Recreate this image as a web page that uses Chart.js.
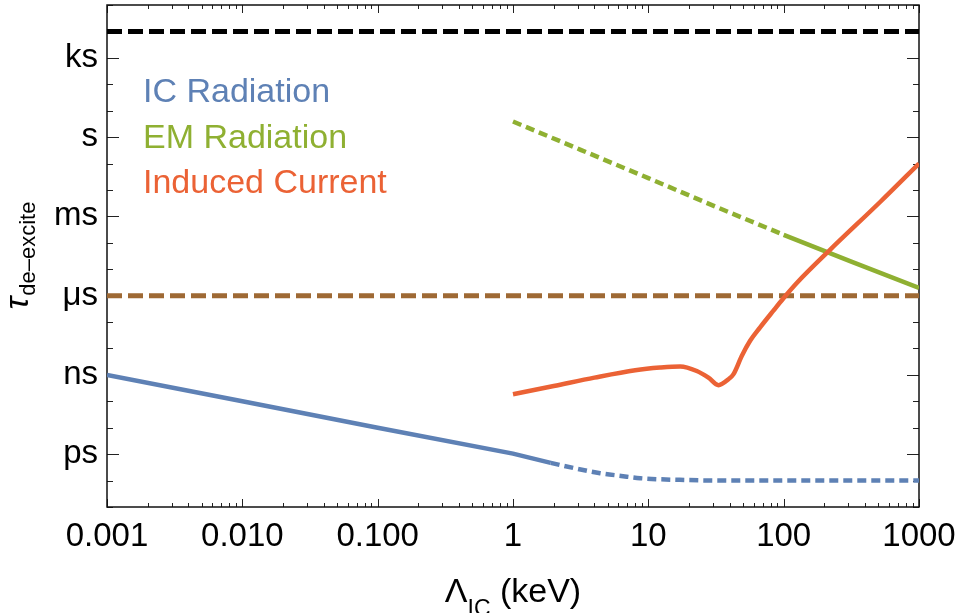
<!DOCTYPE html>
<html lang="en">
<head>
<meta charset="UTF-8" />
<title>De-excitation time vs IC scale</title>
<script src="https://cdn.jsdelivr.net/npm/chart.js@4.4.1/dist/chart.umd.min.js"></script>
<style>
  html, body { margin: 0; padding: 0; background: #ffffff; }
  canvas { display: block; }
</style>
</head>
<body>
<canvas id="tauChart" width="961" height="613"></canvas>
<script>
// x: Lambda_IC in keV, y: de-excitation time in seconds
const icSolidX = [0.001, 0.01, 0.1, 1, 1.9];
const icSolidY = [1e-9, 1e-10, 1e-11, 1.05e-12, 4.7e-13];
const icDashX = [1.9, 2.8, 4.4, 6.3, 8.7, 19, 40, 1000];
const icDashY = [4.7e-13, 3.0e-13, 1.9e-13, 1.5e-13, 1.23e-13, 1.05e-13, 1.0e-13, 1.0e-13];

const emDotX = [1, 3.16, 10, 31.6, 100];
const emDotY = [3.9, 0.33, 0.028, 2.3e-3, 2.0e-4];
const emSolidX = [100, 316, 1000];
const emSolidY = [2.0e-4, 1.95e-5, 1.95e-6];

const currentX = [1, 2, 4, 8, 12.2, 17.2, 22.8, 27.8, 33, 39.1, 42.6, 49, 56.5, 67, 84, 100, 125, 220, 516, 1000];
const currentY = [1.86e-10, 3.8e-10, 7.9e-10, 1.5e-9, 1.9e-9, 2.1e-9, 1.41e-9, 7.9e-10, 4.1e-10, 6.9e-10,
                  1.07e-9, 5.2e-9, 1.95e-8, 6.3e-8, 2.7e-7, 8.1e-7, 3.0e-6, 5.4e-5, 3.5e-3, 0.1];

const limitX = [0.001, 1000];
const upperLimitY = [1e4, 1e4];
const microsecondY = [1e-6, 1e-6];

const xTickVals = [0.001, 0.01, 0.1, 1, 10, 100, 1000];
const xTickLabels = ["0.001", "0.010", "0.100", "1", "10", "100", "1000"];
const yTickVals = [1e-12, 1e-9, 1e-6, 1e-3, 1, 1e3];
const yTickLabels = ["ps", "ns", "\u03BCs", "ms", "s", "ks"];

const legendLabels = ["IC Radiation", "EM Radiation", "Induced Current"];
const legendColors = ["#5E81B5", "#8FB032", "#EB6235"];

const FONT = '"Liberation Sans", Arial, sans-serif';

function pts(xs, ys) {
  return xs.map((x, i) => ({ x: x, y: ys[i] }));
}

function lineSet(label, xs, ys, color, width, dash) {
  return {
    label: label,
    data: pts(xs, ys),
    borderColor: color,
    borderWidth: width,
    borderDash: dash || [],
    borderCapStyle: "butt",
    pointRadius: 0,
    fill: false,
    tension: 0,
  };
}

const currentSet = lineSet("Induced Current", currentX, currentY, "#EB6235", 4.5);
currentSet.cubicInterpolationMode = "monotone";
const icDashSet = lineSet("IC Radiation (dashed)", icDashX, icDashY, "#5E81B5", 4.5, [9, 5]);
icDashSet.cubicInterpolationMode = "monotone";

// inward ticks and frame, Mathematica style
const framePlugin = {
  id: "frame",
  beforeDatasetsDraw(chart) {
    const { ctx, chartArea: a, scales } = chart;
    const x = scales.x, y = scales.y;
    ctx.save();
    ctx.strokeStyle = "#222";
    ctx.lineWidth = 1;
    ctx.beginPath();
    for (let e = -3; e <= 3; e++) {
      for (let m = 1; m < 10; m++) {
        const v = m * Math.pow(10, e);
        if (v > 1000) break;
        const px = Math.round(x.getPixelForValue(v)) + 0.5;
        const len = m === 1 ? 8 : 4;
        ctx.moveTo(px, a.bottom); ctx.lineTo(px, a.bottom - len);
        ctx.moveTo(px, a.top); ctx.lineTo(px, a.top + len);
      }
    }
    for (let e = -14; e <= 5; e++) {
      const py = Math.round(y.getPixelForValue(Math.pow(10, e))) + 0.5;
      const len = (e % 3 === 0) ? 12 : 6;
      ctx.moveTo(a.left, py); ctx.lineTo(a.left + len, py);
      ctx.moveTo(a.right, py); ctx.lineTo(a.right - len, py);
    }
    ctx.stroke();
    ctx.lineWidth = 1.5;
    ctx.strokeStyle = "#111";
    ctx.strokeRect(a.left, a.top, a.right - a.left, a.bottom - a.top);
    ctx.restore();
  },
};

// axis titles with subscripts and the text legend
const textPlugin = {
  id: "texts",
  afterDraw(chart) {
    const { ctx, chartArea: a } = chart;
    ctx.save();
    ctx.fillStyle = "#000";
    ctx.textBaseline = "alphabetic";
    ctx.textAlign = "left";

    // x title: Lambda_IC (keV)
    const mainX = "34px " + FONT, subX = "23px " + FONT;
    ctx.font = mainX;
    const w1 = ctx.measureText("\u039B").width;
    const w3 = ctx.measureText(" (keV)").width;
    ctx.font = subX;
    const w2 = ctx.measureText("IC").width;
    let x0 = (a.left + a.right) / 2 - (w1 + w2 + w3) / 2;
    const base = a.bottom + 95;
    ctx.font = mainX;
    ctx.fillText("\u039B", x0, base);
    ctx.font = subX;
    ctx.fillText("IC", x0 + w1, base + 14);
    ctx.font = mainX;
    ctx.fillText(" (keV)", x0 + w1 + w2, base);

    // y title: tau_de-excite
    const mainY = "italic 34px " + FONT, subY = "22px " + FONT;
    ctx.font = mainY;
    const t1 = ctx.measureText("\u03C4").width;
    ctx.font = subY;
    const t2 = ctx.measureText("de\u2013excite").width;
    ctx.translate(28, (a.top + a.bottom) / 2);
    ctx.rotate(-Math.PI / 2);
    const s0 = -(t1 + t2) / 2;
    ctx.font = mainY;
    ctx.fillText("\u03C4", s0, 0);
    ctx.font = subY;
    ctx.fillText("de\u2013excite", s0 + t1 + 1, 7);
    ctx.setTransform(1, 0, 0, 1, 0, 0);

    // legend
    ctx.font = "34px " + FONT;
    legendLabels.forEach((t, i) => {
      ctx.fillStyle = legendColors[i];
      ctx.fillText(t, a.left + 36, a.top + 97 + i * 45.5);
    });
    ctx.restore();
  },
};

const ctx = document.getElementById("tauChart").getContext("2d");

const tauChart = new Chart(ctx, {
  type: "line",
  data: {
    datasets: [
      currentSet,
      lineSet("EM Radiation", emSolidX, emSolidY, "#8FB032", 4.5),
      lineSet("EM Radiation (dotted)", emDotX, emDotY, "#8FB032", 4.5, [9, 5]),
      lineSet("IC Radiation", icSolidX, icSolidY, "#5E81B5", 4.5),
      icDashSet,
      lineSet("microsecond", limitX, microsecondY, "#9E6934", 5, [15, 6]),
      lineSet("upper limit", limitX, upperLimitY, "#000000", 5, [15, 6]),
    ],
  },
  options: {
    responsive: false,
    animation: false,
    devicePixelRatio: 1,
    layout: { padding: { top: 5, right: 42, left: 0, bottom: 0 } },
    plugins: {
      legend: { display: false },
      tooltip: { enabled: false },
    },
    scales: {
      x: {
        type: "logarithmic",
        min: 0.001,
        max: 1000,
        grid: { display: false, drawTicks: false },
        border: { display: false },
        afterBuildTicks: (s) => { s.ticks = xTickVals.map((v) => ({ value: v })); },
        afterFit: (s) => {
          s.height = 106;
          s.paddingLeft = 0; s.paddingRight = 0;
        },
        ticks: {
          autoSkip: false,
          maxRotation: 0,
          padding: 10,
          color: "#000",
          font: { family: FONT, size: 33 },
          callback: (v, i) => xTickLabels[i],
        },
      },
      y: {
        type: "logarithmic",
        min: 1e-14,
        max: 1e5,
        grid: { display: false, drawTicks: false },
        border: { display: false },
        afterBuildTicks: (s) => { s.ticks = yTickVals.map((v) => ({ value: v })); },
        afterFit: (s) => {
          s.width = 107;
          s.paddingTop = 0; s.paddingBottom = 0;
        },
        ticks: {
          autoSkip: false,
          padding: 9,
          color: "#000",
          font: { family: FONT, size: 33 },
          callback: (v, i) => yTickLabels[i],
        },
      },
    },
  },
  plugins: [framePlugin, textPlugin],
});
</script>
</body>
</html>
